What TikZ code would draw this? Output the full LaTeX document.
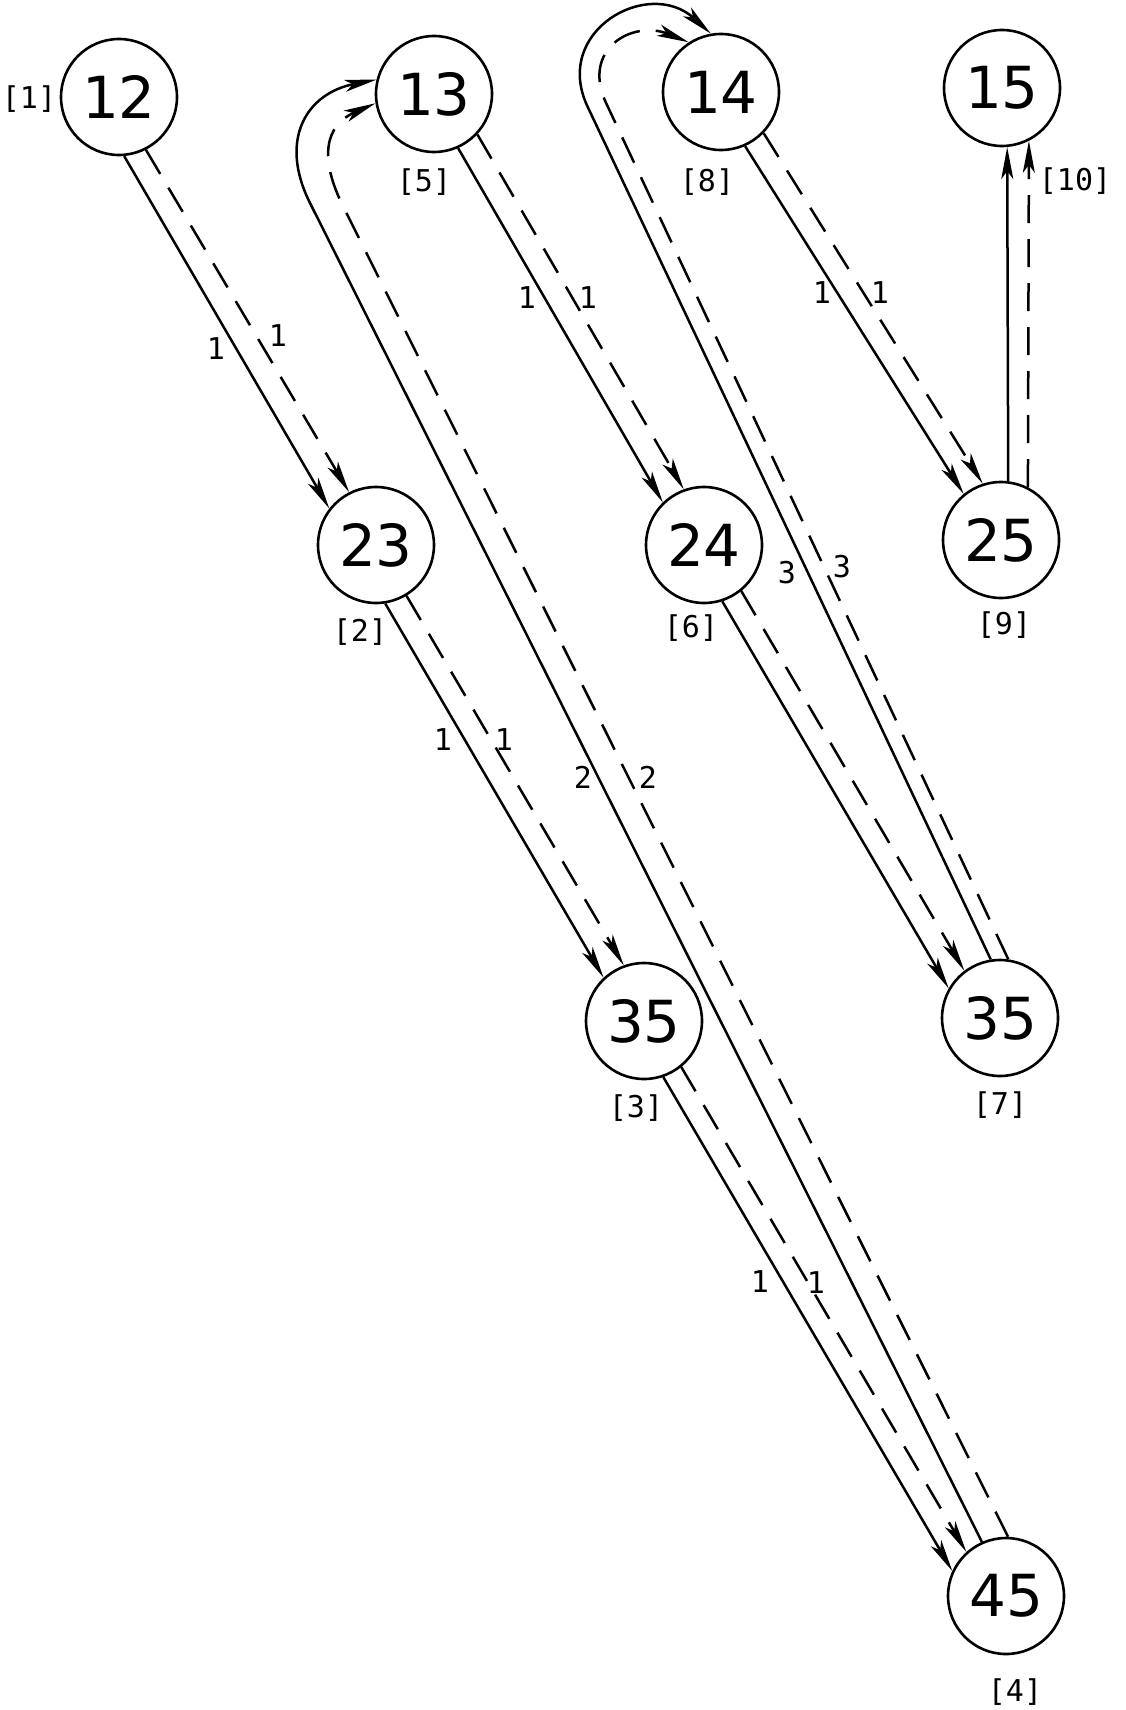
\documentclass[tikz,border=0pt]{standalone}
\usepackage{fontspec}
\newfontfamily\numfont{DejaVu Sans}
\newfontfamily\tagfont{DejaVu Sans Mono}
\usetikzlibrary{arrows.meta,calc}
\begin{document}
\begin{tikzpicture}[x=1pt,y=-1pt,
  state/.style={circle, draw, line width=2.6pt, minimum size=116pt, inner sep=0pt, font={\numfont\fontsize{58}{58}\selectfont}},
  tag/.style={inner sep=0pt, font={\tagfont\fontsize{30}{30}\selectfont}},
  num/.style={inner sep=0pt, font={\tagfont\fontsize{30}{30}\selectfont}},
  tipped/.style={-{Stealth[length=32pt,width=12pt,inset=8pt]}},
  solidedge/.style={line width=2.5pt, tipped},
  dashededge/.style={line width=2.5pt, dash pattern=on 28pt off 16pt, tipped},
]
\useasboundingbox (0,0) rectangle (1126,1710);

% states
\node[state] (n12) at (119,97) {12};
\node[state] (n13) at (434,94) {13};
\node[state] (n14) at (721,92) {14};
\node[state] (n15) at (1002,88) {15};
\node[state] (n23) at (376,545) {23};
\node[state] (n24) at (704,545) {24};
\node[state] (n25) at (1001,540) {25};
\node[state] (n35a) at (644,1021) {35};
\node[state] (n35b) at (1000,1018) {35};
\node[state] (n45) at (1006,1596) {45};

% step tags
\node[tag] (t1) at (29,99) {[1]};
\node[tag] (t2) at (360,632) {[2]};
\node[tag] (t3) at (636,1108) {[3]};
\node[tag] (t4) at (1015,1692) {[4]};
\node[tag] (t5) at (424,182) {[5]};
\node[tag] (t6) at (691,628) {[6]};
\node[tag] (t7) at (1000,1105) {[7]};
\node[tag] (t8) at (707,182) {[8]};
\node[tag] (t9) at (1004,625) {[9]};
\node[tag] (t10) at (1075,181) {[10]};

% straight edge pairs
\draw[solidedge] (n12.-85.4) -- (n23.142.4);
\draw[dashededge] (n12.-63.4) -- (n23.117.5);

\draw[solidedge] (n13.-66.8) -- (n24.134.3);
\draw[dashededge] (n13.-43) -- (n24.110.9);

\draw[solidedge] (n14.-66.3) -- (n25.129.7);
\draw[dashededge] (n14.-44.3) -- (n25.108.4);

\draw[solidedge] (n23.-81.2) -- (n35a.133.7);
\draw[dashededge] (n23.-59.2) -- (n35a.110.8);

\draw[solidedge] (n35a.-71.3) -- (n45.155.4);
\draw[dashededge] (n35a.-51) -- (n45.132.3);

\draw[solidedge] (n24.-72.7) -- (n35b.150.9);
\draw[dashededge] (n24.-51.1) -- (n35b.127.1);

\draw[solidedge] (n25.83) -- (n15.-85);
\draw[dashededge] (n25.63) -- (n15.-63.3);

% long returning edges
\coordinate (s13) at (310,203);
\coordinate (d13) at (343.3,206.7);
\draw[solidedge] (n45.114) -- (s13) to[out=116.6,in=191,looseness=1.3] (n13.166);
\draw[dashededge] (n45.88) -- (d13) to[out=116.6,in=203.6,looseness=1.3] (n13.189);

\coordinate (s14) at (587.6,106.7);
\coordinate (d14) at (606.2,103.3);
\draw[solidedge] (n35b.99.8) -- (s14) to[out=115.3,in=137.5,looseness=1.5] (n14.100.6);
\draw[dashededge] (n35b.82) -- (d14) to[out=115.2,in=158,looseness=1.5] (n14.123);

% edge labels
\node[num] (a1) at (216,349) {1};
\node[num] (a2) at (278,336) {1};
\node[num] (b1) at (527,298) {1};
\node[num] (b2) at (588,298) {1};
\node[num] (c1) at (822,293) {1};
\node[num] (c2) at (880,293) {1};
\node[num] (d1) at (443,740) {1};
\node[num] (d2) at (504,740) {1};
\node[num] (e1) at (760,1282) {1};
\node[num] (e2) at (816,1283) {1};
\node[num] (f1) at (583,777) {2};
\node[num] (f2) at (648,777) {2};
\node[num] (g1) at (787,573) {3};
\node[num] (g2) at (842,567) {3};
\end{tikzpicture}
\end{document}
